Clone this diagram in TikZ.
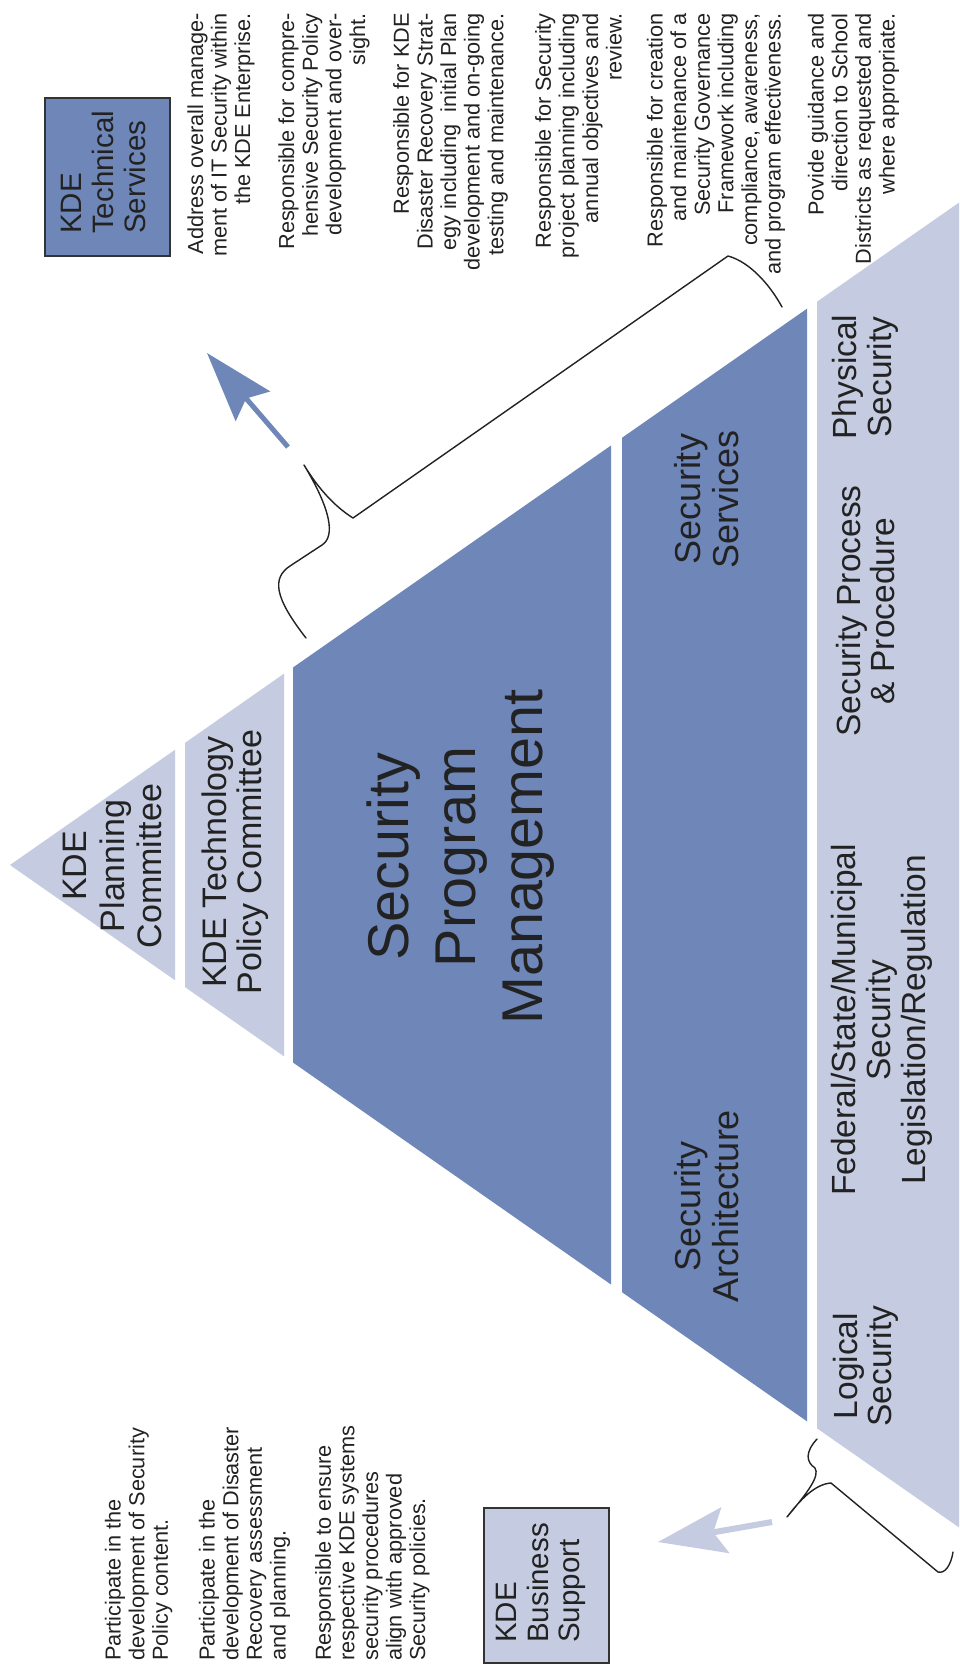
\documentclass[tikz,border=0pt]{standalone}
\usepackage{fontspec}
\setmainfont{Liberation Sans}
\usetikzlibrary{arrows.meta}
\definecolor{dkblue}{HTML}{6E86B8}
\definecolor{ltblue}{HTML}{C5CBE0}
\definecolor{txt}{HTML}{222222}
\definecolor{brd}{HTML}{333333}
\begin{document}
\begin{tikzpicture}[x=1pt,y=-1pt,
  desc/.style={rotate=90, inner sep=0pt, font=\fontsize{21.7}{23.6}\selectfont, text=txt},
  lbl/.style={rotate=90, inner sep=0pt, align=center, text=txt},
  boxlbl/.style={rotate=90, inner sep=0pt, align=left, anchor=west, text=txt, font=\fontsize{29.5}{31.8}\selectfont},
  orgbox/.style={draw=brd, line width=1.3pt, inner sep=0pt},
  brace/.style={draw=txt, line width=1.4pt, line join=round, line cap=round},
  dkfill/.style={fill=dkblue},
  ltfill/.style={fill=ltblue}
]
\useasboundingbox (0,0) rectangle (959,1665);
\fill[white] (0,0) rectangle (959,1665);

% pyramid layers (apex (10,865), half-width 0.698*(x-10))
\fill[ltfill] (10,865) -- (175,749.8) -- (175,980.2) -- cycle;
\fill[ltfill] (185,742.9) -- (284,673.7) -- (284,1056.3) -- (185,987.1) -- cycle;
\fill[dkfill] (293,667.5) -- (611,445.5) -- (611,1284.5) -- (293,1062.5) -- cycle;
\fill[dkfill] (622,437.8) -- (807,308.7) -- (807,1421.3) -- (622,1292.2) -- cycle;
\fill[ltfill] (817,301.7) -- (959,202.6) -- (959,1527.4) -- (817,1428.3) -- cycle;

% pyramid labels
\node[lbl, font=\fontsize{34}{37.5}\selectfont] (plan) at (112.7,866) {KDE\\Planning\\Committee};
\node[lbl, font=\fontsize{34}{35}\selectfont] (tpc) at (235.5,862) {KDE Technology\\Policy Committee};
\node[lbl, font=\fontsize{57.5}{67}\selectfont] (spm) at (461,857) {Security\\Program\\Management};
\node[lbl, font=\fontsize{36}{38}\selectfont] (ssv) at (706.5,499) {Security\\Services};
\node[lbl, font=\fontsize{36}{38}\selectfont] (sar) at (706.5,1206) {Security\\Architecture};
\node[lbl, font=\fontsize{33.5}{34.5}\selectfont] (phy) at (865.5,377) {Physical\\Security};
\node[lbl, font=\fontsize{33.5}{34.5}\selectfont] (spp) at (865.5,611) {Security Process\\\& Procedure};
\node[lbl, font=\fontsize{33.5}{35}\selectfont] (fed) at (882,1020) {Federal/State/Municipal\\Security\\Legislation/Regulation};
\node[lbl, font=\fontsize{33.5}{34.5}\selectfont] (log) at (866,1366) {Logical\\Security};

% KDE Technical Services box
\node[orgbox, fill=dkblue, minimum width=125pt, minimum height=158pt] (tech) at (107.5,177) {};
\node[boxlbl] (techl) at (103.5,234) {KDE\\Technical\\Services};

% KDE Business Support box
\node[orgbox, fill=ltblue, minimum width=125pt, minimum height=155pt] (bus) at (546.5,1585.5) {};
\node[boxlbl] (busl) at (541,1643) {KDE\\Business\\Support};

% Technical services descriptions
\node[desc, anchor=east, align=right] (d1) at (221,13) {Address overall manage-\\ment of IT Security within\\the KDE Enterprise.};
\node[desc, anchor=east, align=right] (d2) at (324,13) {Responsible for compre-\\hensive Security Policy\\development and over-\\sight.};
\node[desc, anchor=east, align=right] (d3) at (450.5,13) {Responsible for KDE\\Disaster Recovery Strat-\\egy including \ initial Plan\\development and on-going\\testing and maintenance.};
\node[desc, anchor=east, align=right] (d4) at (578.5,13) {Responsible for Security\\project planning including\\annual objectives and\\review.};
\node[desc, anchor=east, align=right] (d5) at (716,13) {Responsible for creation\\and maintenance of a\\Security Governance\\Framework including\\compliance, awareness,\\and program effectiveness.};
\node[desc, anchor=east, align=right] (d6) at (853.5,13) {Povide guidance and\\direction to School\\Districts as requested and\\where appropriate.};

% Business support descriptions
\node[desc, anchor=west, align=left] (b1) at (138.7,1661) {Participate in the\\development of Security\\Policy content.};
\node[desc, anchor=west, align=left] (b2) at (244.5,1661) {Participate in the\\development of Disaster\\Recovery assessment\\and planning.};
\node[desc, anchor=west, align=left] (b3) at (372.4,1661) {Responsible to ensure\\respective KDE systems\\security procedures\\align with approved\\Security policies.};

% braces
\draw[brace] (306,638) .. controls (274,597) and (272,578) .. (290,566) -- (322,545)
  .. controls (336,536) and (330,508) .. (304,465)
  .. controls (318,488) and (334,506) .. (353,518) -- (728,256)
  .. controls (750,262) and (770,285) .. (782,307);
\draw[brace] (817,1439) .. controls (805,1452) and (806,1462) .. (815,1468)
  .. controls (820,1476) and (808,1492) .. (787,1517)
  .. controls (800,1500) and (815,1484) .. (831,1483) -- (938,1572)
  .. controls (945,1574) and (951,1565) .. (953,1552);

% arrows
\coordinate (a1s) at (288,447);
\coordinate (a1e) at (207,353);
\draw[dkblue, line width=5pt, -{Stealth[length=70pt, width=45pt, inset=10pt]}] (a1s) -- (a1e);
\coordinate (a2s) at (772,1522);
\coordinate (a2e) at (658,1542);
\draw[ltblue, line width=6pt, -{Stealth[length=68pt, width=46pt, inset=12pt]}] (a2s) -- (a2e);
\end{tikzpicture}
\end{document}
